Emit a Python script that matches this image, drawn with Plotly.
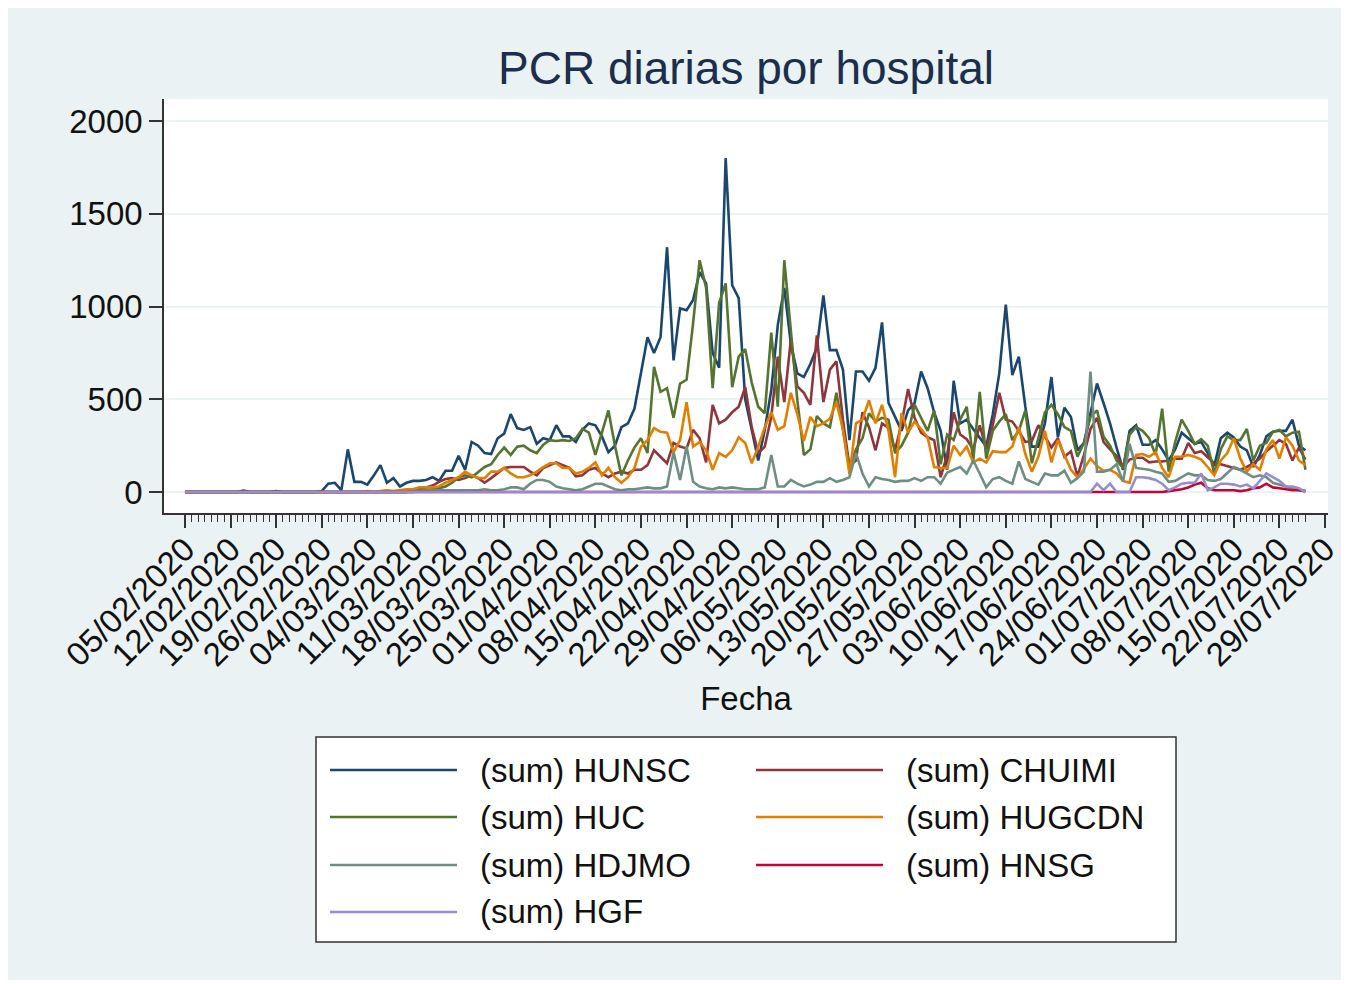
import pandas as pd
import plotly.graph_objects as go

# ---------------- data (daily values, one row per week starting at each labelled date) -------------
START = "2020-02-05"

HUNSC = [
    0, 0, 0, 0, 0, 0, 0,
    0, 0, 8, 0, 0, 0, 0,
    5, 0, 0, 0, 0, 0, 0,
    5, 45, 50, 10, 230, 55, 55,
    40, 90, 145, 50, 75, 30, 50,
    60, 60, 65, 80, 60, 115, 115,
    195, 120, 270, 250, 210, 205, 290,
    315, 420, 345, 335, 350, 260, 290,
    280, 360, 300, 300, 270, 335, 370,
    360, 300, 215, 250, 350, 370, 450,
    640, 835, 750, 835, 1320, 710, 990,
    980, 1035, 1185, 1125, 750, 670, 1800,
    1115, 1045, 500, 330, 170, 335, 550,
    900, 1100, 800, 640, 620, 690, 780,
    1060, 765, 765, 660, 280, 650, 650,
    600, 670, 915, 480, 405, 330, 440,
    480, 650, 560, 430, 330, 120, 600,
    370, 390, 340, 290, 245, 420, 640,
    1010, 630, 730, 460, 245, 245, 370,
    620, 295, 455, 405, 225, 265, 425,
    585, 480, 370, 240, 120, 330, 360,
    255, 255, 280, 230, 170, 230, 320,
    290, 260, 270, 210, 140, 290, 320,
    295, 245, 225, 135, 200, 300, 325,
    330, 330, 390, 250, 225,
]

CHUIMI = [0] * 35 + [
    10, 15, 25, 35, 55, 70, 75,
    65, 75, 90, 75, 50, 75, 100,
    130, 135, 135, 135, 110, 90, 130,
    145, 160, 145, 130, 85, 90, 120,
    130, 100, 80, 100, 110, 100, 120,
    120, 145, 225, 190, 155, 265, 245,
    235, 335, 290, 160, 470, 370, 390,
    430, 460, 565, 350, 210, 245, 405,
    730, 485, 820, 570, 535, 470, 845,
    485, 660, 705, 390, 140, 170, 430,
    350, 225, 370, 345, 225, 370, 555,
    400, 320, 295, 280, 80, 200, 430,
    310, 285, 230, 360, 230, 360, 535,
    390, 380, 330, 270, 275, 360, 300,
    240, 290, 190, 220, 85, 200, 340,
    400, 270, 230, 195, 135, 175, 185,
    185, 160, 165, 165, 170, 180, 180,
    265, 210, 220, 185, 155, 150, 140,
    130, 120, 135, 155, 180, 220, 250,
    280, 260, 170, 240, 175,
]

HUC = [0] * 35 + [
    0, 5, 10, 15, 20, 30, 50,
    80, 90, 80, 110, 135, 150, 200,
    240, 200, 245, 250, 225, 210, 255,
    280, 275, 280, 275, 290, 340, 320,
    200, 320, 440, 250, 90, 170, 240,
    290, 210, 675, 540, 560, 400, 585,
    605, 910, 1250, 1100, 560, 1020, 1125,
    565, 730, 770, 590, 460, 425, 860,
    460, 1250, 850, 495, 200, 230, 410,
    370, 350, 535, 335, 130, 230, 290,
    425, 380, 400, 390, 210, 250, 320,
    470, 400, 330, 440, 150, 310, 280,
    390, 460, 170, 540, 180, 330, 380,
    420, 280, 330, 440, 155, 290, 430,
    470, 420, 350, 330, 190, 265, 405,
    440, 300, 250, 170, 130, 310, 350,
    330, 290, 200, 450, 110, 270, 390,
    330, 260, 285, 250, 100, 230, 300,
    280, 280, 340, 170, 250, 265, 325,
    335, 300, 320, 325, 120,
]

HUGCDN = [0] * 28 + [
    5, 0, 5, 10, 5, 10, 15,
    15, 25, 25, 25, 30, 50, 65,
    80, 110, 90, 75, 75, 110, 110,
    130, 100, 80, 80, 90, 110, 135,
    155, 155, 130, 130, 100, 110, 130,
    160, 90, 130, 80, 50, 80, 130,
    245, 280, 345, 325, 320, 215, 280,
    485, 245, 270, 225, 120, 210, 190,
    225, 295, 265, 155, 245, 350, 430,
    335, 355, 535, 420, 275, 405, 355,
    370, 395, 485, 340, 95, 370, 390,
    495, 370, 470, 330, 80, 425, 320,
    380, 340, 295, 135, 130, 130, 250,
    200, 245, 160, 180, 160, 220, 215,
    215, 245, 350, 205, 110, 190, 330,
    160, 280, 200, 120, 80, 125, 180,
    140, 115, 120, 100, 60, 50, 200,
    205, 190, 215, 130, 80, 190, 190,
    200, 190, 175, 135, 90, 170, 210,
    290, 180, 110, 150, 120, 230, 280,
    180, 295, 250, 170, 145,
]

HDJMO = [0] * 35 + [
    5, 5, 8, 10, 10, 8, 10,
    12, 10, 12, 10, 15, 10, 10,
    15, 25, 25, 15, 45, 65, 65,
    55, 30, 20, 15, 10, 15, 30,
    45, 45, 30, 15, 10, 15, 15,
    20, 25, 20, 20, 30, 215, 65,
    245, 55, 30, 20, 15, 25, 20,
    25, 20, 15, 15, 15, 25, 200,
    30, 30, 65, 45, 30, 40, 55,
    55, 75, 55, 65, 80, 210, 100,
    30, 80, 70, 65, 55, 60, 60,
    75, 60, 80, 80, 45, 105, 120,
    135, 100, 170, 100, 25, 70, 80,
    60, 45, 165, 70, 55, 40, 100,
    90, 90, 115, 50, 75, 110, 650,
    110, 110, 120, 150, 55, 260, 130,
    125, 120, 110, 100, 55, 60, 80,
    100, 90, 90, 65, 60, 70, 100,
    135, 120, 100, 80, 90, 80, 50,
    40, 30, 20, 10, 5,
]

HNSG = [0] * 151 + [
    5, 10, 15,
    25, 40, 50, 20, 10, 10, 10,
    10, 5, 10, 20, 25, 45, 25,
    20, 15, 10, 10, 5,
]

HGF = [0] * 140 + [
    45, 10, 45, 0, 0, 0, 80,
    80, 75, 65, 45, 10, 25, 45,
    50, 50, 100, 10, 25, 45, 45,
    40, 30, 40, 20, 60, 100, 80,
    60, 30, 30, 20, 0,
]

SERIES = ["HUNSC", "CHUIMI", "HUC", "HUGCDN", "HDJMO", "HNSG", "HGF"]
VALUES = [HUNSC, CHUIMI, HUC, HUGCDN, HDJMO, HNSG, HGF]
COLORS = ["#1a476f", "#90353b", "#55752f", "#e37e00", "#6e8e84", "#c10534", "#938dd2"]
LABELS = ["(sum) " + s for s in SERIES]
Y_TICKS = [0, 500, 1000, 1500, 2000]

n = len(HUNSC)
dates = pd.date_range(START, periods=n, freq="D")
major_dates = pd.date_range(START, "2020-07-29", freq="7D")
minor_dates = [d for d in dates if d not in set(major_dates)]

# ---------------- geometry helpers (page pixel -> paper coords) ----------------
OFF = 8                      # browser body margin
FIG_W, FIG_H = 1333, 972
L, R, T, B = 164, 1328, 99, 513     # plot area in page pixels


def px(x):
    return (x - L) / (R - L)


def py(y):
    return (B - y) / (B - T)


FONT = "Liberation Sans, Arial, sans-serif"
LW = 2.6

fig = go.Figure()
for name, vals, col in zip(LABELS, VALUES, COLORS):
    fig.add_trace(go.Scatter(x=dates, y=vals, mode="lines", name=name,
                             line=dict(color=col, width=LW), showlegend=False))

start_ts = pd.Timestamp(START)
x0 = start_ts - pd.Timedelta(days=3.22)
x1 = start_ts + pd.Timedelta(days=175.46)

fig.update_layout(
    width=FIG_W, height=FIG_H,
    margin=dict(l=L - OFF, r=FIG_W - (R - OFF), t=T - OFF, b=FIG_H - (B - OFF), pad=0,
                autoexpand=False),
    paper_bgcolor="#eaf2f3",
    plot_bgcolor="white",
    font=dict(family=FONT, size=33, color="#111111"),
    title=dict(text="PCR diarias por hospital", xref="paper", x=0.5, xanchor="center",
               yref="container", y=1 - (68 - OFF) / FIG_H, yanchor="middle",
               font=dict(size=46, color="#1c2e4e", family=FONT)),
    xaxis=dict(
        type="date", range=[x0, x1], automargin=False,
        tickvals=list(major_dates), ticktext=[d.strftime("%d/%m/%Y") for d in major_dates],
        tickangle=-45, ticklabeloverflow="allow", ticklabelstandoff=-11,
        ticks="outside", ticklen=13, tickwidth=1.5, tickcolor="#333333",
        showline=True, linecolor="#333333", linewidth=1.5,
        showgrid=False, zeroline=False,
        minor=dict(ticks="outside", ticklen=7, tickwidth=1, tickcolor="#333333",
                   tickvals=minor_dates, showgrid=False),
        tickfont=dict(size=33, family=FONT, color="#111111"),
        title=dict(text="Fecha", font=dict(size=33, family=FONT, color="#111111")),
    ),
    yaxis=dict(
        range=[-113, 2119], automargin=False,
        tickvals=Y_TICKS, ticktext=[str(v) for v in Y_TICKS],
        ticks="outside", ticklen=13, tickwidth=1.5, tickcolor="#333333",
        showline=True, linecolor="#333333", linewidth=1.5,
        showgrid=True, gridcolor="#eaf2f3", gridwidth=1.8, zeroline=False,
        tickfont=dict(size=33, family=FONT, color="#111111"),
    ),
)

# ---------------- legend drawn as a framed box ----------------
shapes = [dict(type="rect", xref="paper", yref="paper",
               x0=px(316), x1=px(1176), y0=py(942), y1=py(737),
               fillcolor="white", line=dict(color="#333333", width=1.5), layer="above")]
annotations = []
col_line_x = [(330, 457), (756, 883)]
col_text_x = [478, 904]
row_y = [770, 817, 865, 912]
for i, (lab, col) in enumerate(zip(LABELS, COLORS)):
    r, c = divmod(i, 2)
    yy = py(row_y[r])
    shapes.append(dict(type="line", xref="paper", yref="paper",
                       x0=px(col_line_x[c][0]), x1=px(col_line_x[c][1]), y0=yy, y1=yy,
                       line=dict(color=col, width=LW), layer="above"))
    annotations.append(dict(text=lab, xref="paper", yref="paper", x=px(col_text_x[c]), y=yy,
                            xanchor="left", yanchor="middle", showarrow=False,
                            font=dict(size=33, family=FONT, color="#111111")))

fig.update_layout(shapes=shapes, annotations=annotations)
fig.write_html("out.html")
